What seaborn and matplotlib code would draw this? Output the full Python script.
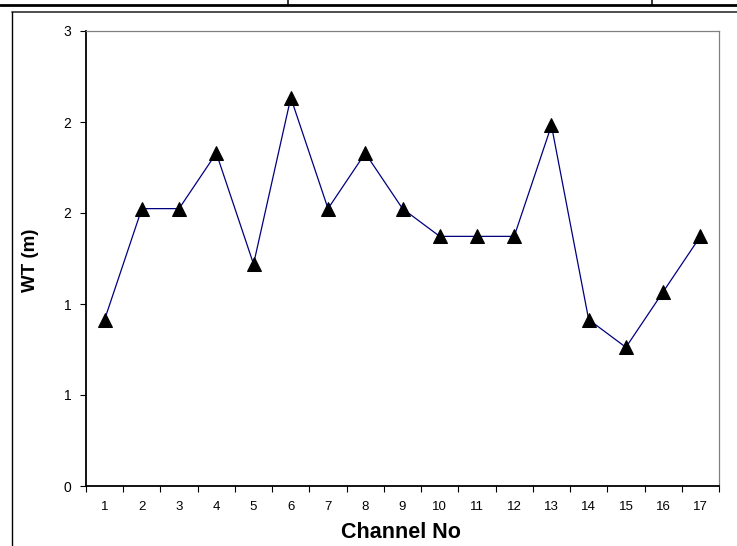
import matplotlib
matplotlib.use("Agg")
import matplotlib.pyplot as plt
import seaborn as sns
import pandas as pd
import numpy as np
from matplotlib.lines import Line2D

# ---- data ----
channels = list(range(1, 18))
wt_m = [0.9144, 1.524, 1.524, 1.8288, 1.2192, 2.1336, 1.524, 1.8288, 1.524,
        1.3716, 1.3716, 1.3716, 1.9812, 0.9144, 0.762, 1.0668, 1.3716]
y_ticks = [0, 0.5, 1.0, 1.5, 2.0, 2.5]
y_tick_labels = ["0", "1", "1", "2", "2", "3"]
x_tick_labels = [str(c) for c in channels]

sns.set_style("white")
plt.rcParams['font.family'] = ['Liberation Sans', 'DejaVu Sans']
plt.rcParams['text.color'] = 'black'
plt.rcParams['axes.labelcolor'] = 'black'
plt.rcParams['xtick.color'] = 'black'
plt.rcParams['ytick.color'] = 'black'

W, H = 737, 546
fig = plt.figure(figsize=(W / 100, H / 100), dpi=100)
ax = fig.add_axes([86 / W, (H - 486) / H, 633 / W, 455 / H])

df = pd.DataFrame({"Channel No": channels, "WT (m)": wt_m})
sns.lineplot(data=df, x="Channel No", y="WT (m)", ax=ax, color="#000080",
             linewidth=0.9, marker="^", markersize=10,
             markerfacecolor="black", markeredgecolor="black")

ax.set_xlim(0.5, 17.5)
ax.set_ylim(0, 2.5)
ax.set_xticks(channels)
ax.set_xticklabels(x_tick_labels, fontsize=9.5, color='black')
ax.set_xticks(np.arange(0.5, 18, 1), minor=True)
ax.tick_params(axis='x', which='major', length=0, pad=10.5, bottom=True)
ax.tick_params(axis='x', which='minor', length=4, width=0.8, direction='out',
               color='black', bottom=True)
ax.set_yticks(y_ticks)
ax.set_yticklabels(y_tick_labels, fontsize=10, color='black')
ax.tick_params(axis='y', which='major', length=4.5, width=0.8, direction='out',
               color='black', left=True, pad=6)

for s in ['left', 'bottom']:
    ax.spines[s].set_color('black')
    ax.spines[s].set_linewidth(1.3)
for s in ['top', 'right']:
    ax.spines[s].set_color('#808080')
    ax.spines[s].set_linewidth(0.9)

ax.set_xlabel("Channel No", fontsize=15.5, fontweight='bold', color='black')
ax.set_ylabel("WT (m)", fontsize=13.5, fontweight='bold', color='black')
ax.xaxis.set_label_coords(0.498, (486 - 522) / 455)
ax.yaxis.set_label_coords((39 - 86) / 633, 0.497)

# ---- page decorations ----
def px(x):
    return x / W

def py(y):
    return 1 - y / H

fig.add_artist(Line2D([0, 1], [py(4.5), py(4.5)], color='black', lw=2.0,
                      transform=fig.transFigure))
for xv in [288, 652]:
    fig.add_artist(Line2D([px(xv), px(xv)], [py(0), py(4.5)], color='black',
                          lw=1.1, transform=fig.transFigure))
fig.add_artist(Line2D([px(11.5), 1], [py(11.5), py(11.5)], color='#404040',
                      lw=1.3, transform=fig.transFigure))
fig.add_artist(Line2D([px(11.5), px(11.5)], [py(11.5), 0], color='black',
                      lw=1.0, transform=fig.transFigure))

fig.savefig("out.png", dpi=100)
